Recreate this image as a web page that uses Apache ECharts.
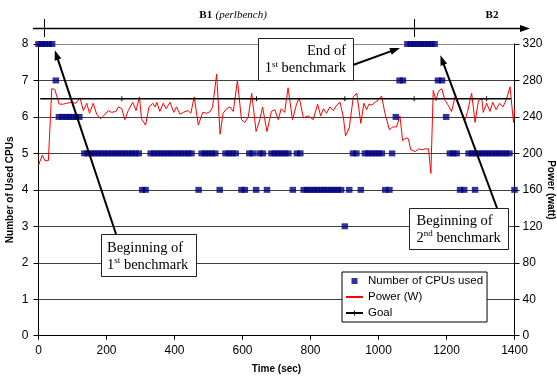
<!DOCTYPE html>
<html><head><meta charset="utf-8">
<script src="https://cdn.jsdelivr.net/npm/echarts@6/dist/echarts.min.js"></script>
<style>html,body{margin:0;padding:0;background:#fff}#c{width:557px;height:378px}</style>
</head><body><div id="c"></div>
<script>
// ---------- data ----------
const cpuTime = [0,10,20,30,40, 51, 60,70,80,90,100,110,120,
  135,145,155,165,175,185,195,205,215,225,235,245,255,265,275,285,295,
  305,315,
  330,340,350,360,370,380,390,400,410,420,430,440,450,
  471, 480,490,500,510,520, 533, 550,560,570,580, 597,607, 620,630, 640, 650,660, 672,
  685,695,705,715,725,735, 748, 760,770,
  780,790,800,810,820,830,840,850,860,870,880,890,
  901, 914, 925,935, 948, 960,970,980,990,1000,1010, 1020,1032, 1040, 1051, 1062,1072,
  1085,1095,1105,1115,1125,1135,1145,1155,1165, 1175,1187, 1199, 1210,1220,1230, 1240,1252,
  1265,1275,1285,1295,1305,1315,1325,1335,1345,1355,1365,1375,1385, 1284, 1400];
const cpuCount = [8,8,8,8,8, 7, 6,6,6,6,6,6,6,
  5,5,5,5,5,5,5,5,5,5,5,5,5,5,5,5,5,
  4,4,
  5,5,5,5,5,5,5,5,5,5,5,5,5,
  4, 5,5,5,5,5, 4, 5,5,5,5, 4,4, 5,5, 4, 5,5, 4,
  5,5,5,5,5,5, 4, 5,5,
  4,4,4,4,4,4,4,4,4,4,4,4,
  3, 4, 5,5, 4, 5,5,5,5,5,5, 4,4, 5, 6, 7,7,
  8,8,8,8,8,8,8,8,8, 7,7, 6, 5,5,5, 4,4,
  5,5,5,5,5,5,5,5,5,5,5,5,5, 4, 4];

const powerTime = [0,11,19,29,39,48,61,73,83,97,110,122,132,142,150,161,171,183,196,205,215,228,235,245,254,264,277,287,297,303,315,325,336,343,348,357,367,375,387,398,406,416,426,440,448,458,
  470,483,495,505,512,524,534,543,553,563,573,585,597,607,617,627,640,651,659,672,685,695,705,714,724,734,747,759,767,779,794,808,821,830,838,847,857,867,877,887,897,903,914,926,
  936,948,957,965,972,980,990,1000,1009,1019,1032,1042,1053,1063,1071,1081,1088,1095,1108,1118,1128,1137,1147,1154,1161,1169,1176,1186,1196,1203,1215,1225,1235,1245,1255,1262,1274,1284,1294,1304,1308,1318,1328,1336,1346,1356,1366,1375,1387,1397,1400];
const powerWatt = [187,198,192,192,271,270,254,254,255,256,255,261,247,255,244,255,243,238,243,247,245,246,251,249,237,247,256,247,262,238,231,251,255,251,256,246,255,249,256,245,251,243,245,247,244,262,
  231,245,244,246,251,287,221,244,249,251,246,280,237,234,240,266,224,237,251,224,246,248,237,249,245,272,237,254,261,239,241,237,254,241,249,244,251,247,253,256,239,219,228,262,
  266,233,255,248,254,253,256,259,263,244,226,229,229,241,214,217,216,204,202,205,204,205,205,178,269,258,268,271,258,254,246,262,253,244,237,246,266,234,258,260,245,255,246,256,248,255,251,258,273,234,248];

const goalTime = [5,245,641,901,1105,1318,1390];
const goalWatt = [260,260,260,260,260,260,260];

const cpuTicks = [0,1,2,3,4,5,6,7,8];
const powerTicks = [0,40,80,120,160,200,240,280,320];
const timeTicks = [0,200,400,600,800,1000,1200,1400];

const seriesNames = ['Number of CPUs used','Power (W)','Goal'];
const phaseNames = ['B1','B2'];
const phaseSub = '(perlbench)';
const phaseBounds = [17, 1104];

// ---------- chart ----------
const chart = echarts.init(document.getElementById('c'), null, {renderer:'canvas'});
const SANS = 'Liberation Sans, Arial, sans-serif';
const SERIF = 'Liberation Serif, Times New Roman, serif';
const PLUS = 'path://M4,0H6V4H10V6H6V10H4V6H0V4H4Z';

const cpuData = cpuTime.map((t,i)=>[t,cpuCount[i]]);
const powerData = powerTime.map((t,i)=>[t,powerWatt[i]]);
const goalData = goalTime.map((t,i)=>{
  const d = {value:[t,goalWatt[i]]};
  if (i===0 || i===goalTime.length-1) d.symbol='none';
  return d;
});

chart.setOption({
  animation:false,
  backgroundColor:'#fff',
  grid:{left:38.5, right:42.5, top:44, bottom:42.3, containLabel:false, outerBoundsMode:'none'},
  xAxis:{type:'value', min:timeTicks[0], max:timeTicks[timeTicks.length-1], interval:200,
    name:'Time (sec)', nameLocation:'middle', nameGap:29, nameMoveOverlap:false,
    nameTextStyle:{fontFamily:SANS, fontWeight:'bold', fontSize:10, color:'#000'},
    axisLine:{show:true, onZero:false, lineStyle:{color:'#000', width:1}},
    axisTick:{show:true, length:4, lineStyle:{color:'#000'}},
    axisLabel:{fontFamily:SANS, fontSize:12, color:'#000', margin:9, formatter:v=>String(v)},
    splitLine:{show:false}},
  yAxis:[
    {type:'value', min:cpuTicks[0], max:cpuTicks[cpuTicks.length-1], interval:1,
     name:'Number of Used CPUs', nameLocation:'middle', nameGap:23, nameMoveOverlap:false,
     nameTextStyle:{fontFamily:SANS, fontWeight:'bold', fontSize:10, color:'#000'},
     axisLine:{show:true, lineStyle:{color:'#000', width:1}},
     axisTick:{show:true, length:5, lineStyle:{color:'#000'}},
     axisLabel:{fontFamily:SANS, fontSize:12, color:'#000', margin:10, formatter:v=>String(v)},
     splitLine:{show:true, lineStyle:{color:['#404040','#404040','#404040','#404040','#404040','#404040','#404040','#404040','#8a8a8a'], width:1}}},
    {type:'value', min:powerTicks[0], max:powerTicks[powerTicks.length-1], interval:40, position:'right',
     name:'Power (watt)', nameLocation:'middle', nameGap:31, nameRotate:-90, nameMoveOverlap:false,
     nameTextStyle:{fontFamily:SANS, fontWeight:'bold', fontSize:10, color:'#000'},
     axisLine:{show:true, lineStyle:{color:'#000', width:1}},
     axisTick:{show:true, length:5, lineStyle:{color:'#000'}},
     axisLabel:{fontFamily:SANS, fontSize:12, color:'#000', margin:8, formatter:v=>String(v)},
     splitLine:{show:false}}
  ],
  legend:{orient:'vertical', left:342, top:272, padding:[1,4,1,3], itemGap:0,
    itemWidth:17, itemHeight:6, borderColor:'#000', borderWidth:1, backgroundColor:'#fff',
    textStyle:{fontFamily:SANS, fontSize:11.5, color:'#000', lineHeight:16},
    data:[{name:seriesNames[0], icon:'path://M0,0H10V10H0Z'},
          {name:seriesNames[1], itemStyle:{opacity:0}},
          {name:seriesNames[2]}]},
  series:[
    {name:seriesNames[1], type:'line', yAxisIndex:1, data:powerData, symbol:'none',
     lineStyle:{color:'#ff0000', width:1}, itemStyle:{color:'#ff0000'}, z:2, clip:false},
    {name:seriesNames[2], type:'line', yAxisIndex:1, data:goalData, symbol:PLUS, symbolSize:[5,5],
     lineStyle:{color:'#000', width:1.6}, itemStyle:{color:'#000'}, z:3},
    {name:seriesNames[0], type:'scatter', yAxisIndex:0, data:cpuData, symbol:'rect', symbolSize:[6.5,6],
     itemStyle:{color:'#000080'}, z:4, clip:false}
  ]
});

// ---------- annotations ----------
function px(t,v){ return chart.convertToPixel({xAxisIndex:0, yAxisIndex:0},[t,v]); }
function arrow(x1,y1,x2,y2,w,hl,hw){
  const dx=x2-x1, dy=y2-y1, L=Math.hypot(dx,dy), ux=dx/L, uy=dy/L, pxn=-uy, pyn=ux;
  const bx=x2-ux*hl, by=y2-uy*hl;
  return [
    {type:'line', shape:{x1:x1,y1:y1,x2:x2-ux*hl*0.7,y2:y2-uy*hl*0.7}, style:{stroke:'#000', lineWidth:w}, z:10},
    {type:'polygon', shape:{points:[[x2,y2],[bx+pxn*hw,by+pyn*hw],[bx-pxn*hw,by-pyn*hw]]}, style:{fill:'#000'}, z:10}
  ];
}
function box(x,y,w,h){ return {type:'rect', shape:{x:x,y:y,width:w,height:h}, style:{fill:'#fff', stroke:'#222', lineWidth:1}, z:9}; }
const richSup = {
  a:{fontFamily:SERIF, fontSize:14.5, lineHeight:17, fill:'#000'},
  s:{fontFamily:SERIF, fontSize:9, lineHeight:17, verticalAlign:'top', fill:'#000'}
};
function txt(x,y,text,align){
  return {type:'text', x:x, y:y, z:11, style:{text:text, rich:richSup, align:align, verticalAlign:'middle', fontFamily:SERIF, fontSize:14.5, fill:'#000'}};
}
const g = [];
g.push(box(258.5,38.5,95,42));
g.push(txt(346,51.5,'{a|End of}','right'));
g.push(txt(346,68.5,'{a|1}{s|st}{a| benchmark}','right'));
g.push(box(101.5,234.5,95,42));
g.push(txt(107,248.5,'{a|Beginning of}','left'));
g.push(txt(107,265,'{a|1}{s|st}{a| benchmark}','left'));
g.push(box(409.5,208.5,99,41));
g.push(txt(416.5,221,'{a|Beginning of}','left'));
g.push(txt(416.5,238,'{a|2}{s|nd}{a| benchmark}','left'));
const t1 = px(1063,7.89); g.push(...arrow(353,65,t1[0],t1[1],2,10,3.5));
const t2 = px(48,7.83);  g.push(...arrow(116,234,t2[0],t2[1],2,10,3.5));
const t3 = px(1182,7.69); g.push(...arrow(497,208,t3[0],t3[1],2,10,3.5));
g.push({type:'line', shape:{x1:33,y1:28.5,x2:522,y2:28.5}, style:{stroke:'#000', lineWidth:1.5}, z:10});
g.push({type:'polygon', shape:{points:[[530,28.5],[520,25],[520,32]]}, style:{fill:'#000'}, z:10});
phaseBounds.forEach(b=>{
  const x = Math.round(px(b,0)[0])+0.5;
  g.push({type:'line', shape:{x1:x,y1:19,x2:x,y2:37}, style:{stroke:'#000', lineWidth:1}, z:10});
});
const b1x = (px(phaseBounds[0],0)[0]+px(phaseBounds[1],0)[0])/2 + 4;
g.push({type:'text', x:b1x, y:15, z:11, style:{text:'{b|'+phaseNames[0]+'} {i|'+phaseSub+'}',
  rich:{b:{fontFamily:SERIF, fontWeight:'bold', fontSize:11, fill:'#000'}, i:{fontFamily:SERIF, fontStyle:'italic', fontSize:11, fill:'#000'}},
  align:'center', verticalAlign:'middle'}});
g.push({type:'text', x:492, y:15, z:11, style:{text:phaseNames[1], fontFamily:SERIF, fontWeight:'bold', fontSize:11, fill:'#000', align:'center', verticalAlign:'middle'}});
chart.setOption({graphic:g});
</script></body></html>
